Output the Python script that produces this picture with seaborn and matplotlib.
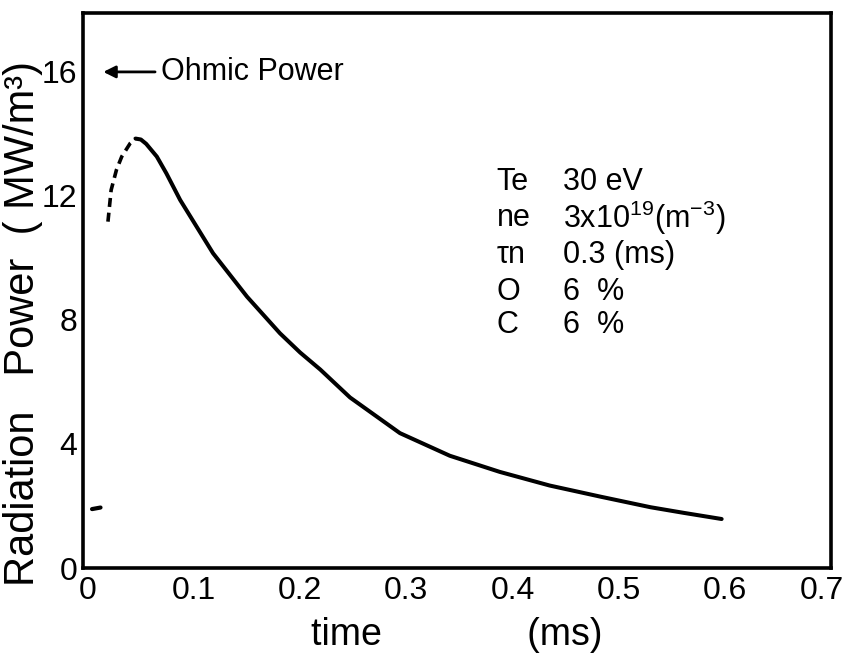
import matplotlib
matplotlib.use("Agg")
import matplotlib.pyplot as plt
import matplotlib.transforms as mtransforms
import seaborn as sns
import pandas as pd

# ---- data ----
solid_t = [0.045, 0.050, 0.055, 0.065, 0.074, 0.087, 0.118, 0.150, 0.181, 0.200,
           0.219, 0.247, 0.294, 0.341, 0.388, 0.435, 0.483, 0.530, 0.561, 0.597]
solid_v = [13.85, 13.82, 13.68, 13.27, 12.73, 11.87, 10.15, 8.75, 7.57, 6.95,
           6.40, 5.50, 4.35, 3.62, 3.10, 2.66, 2.30, 1.96, 1.78, 1.58]
dash_t = [0.019, 0.022, 0.027, 0.032, 0.040, 0.045]
dash_v = [11.17, 12.19, 12.84, 13.27, 13.70, 13.85]
mark_t = [0.004, 0.012]
mark_v = [1.9, 1.95]

x_ticks = [0, 0.1, 0.2, 0.3, 0.4, 0.5, 0.6, 0.7]
x_labels = ["0", "0.1", "0.2", "0.3", "0.4", "0.5", "0.6", "0.7"]
y_ticks = [0, 4, 8, 12, 16]
y_labels = ["0", "4", "8", "12", "16"]

ohmic_level = 16
param_names = ["Te", "ne", "τn", "O", "C"]
param_values = ["30 eV", r"3x10$^{19}$(m$^{-3}$)", "0.3 (ms)", "6  %", "6  %"]
param_rows = [12.45, 11.3, 10.1, 8.9, 7.85]

sns.set_theme(style="white")
plt.rcParams["font.family"] = ["Liberation Sans", "DejaVu Sans"]
plt.rcParams["mathtext.fontset"] = "custom"
plt.rcParams["mathtext.rm"] = "Liberation Sans"
plt.rcParams["mathtext.it"] = "Liberation Sans"

fig = plt.figure(figsize=(8.51, 6.53), dpi=100)
ax = fig.add_axes([83 / 851, 1 - 568 / 653, (831 - 83) / 851, (568 - 13) / 653])

df_solid = pd.DataFrame({"t": solid_t, "v": solid_v})
df_dash = pd.DataFrame({"t": dash_t, "v": dash_v})
df_mark = pd.DataFrame({"t": mark_t, "v": mark_v})

sns.lineplot(data=df_solid, x="t", y="v", ax=ax, color="black", lw=2.9, sort=False)
sns.lineplot(data=df_dash, x="t", y="v", ax=ax, color="black", lw=2.6, sort=False,
             linestyle=(0, (2.5, 1.6)))
sns.lineplot(data=df_mark, x="t", y="v", ax=ax, color="black", lw=3, sort=False)

ax.set_xlim(-0.0045, 0.7)
ax.set_ylim(0, 17.9)
ax.set_xticks(x_ticks)
ax.set_xticklabels(x_labels)
ax.set_yticks(y_ticks)
ax.set_yticklabels(y_labels)
ax.tick_params(axis="both", direction="in", length=7, width=2, color="black",
               labelsize=23, labelcolor="black")
ax.tick_params(axis="x", pad=6)
ax.tick_params(axis="y", pad=4)
for s in ax.spines.values():
    s.set_linewidth(2.6)
    s.set_color("black")
    s.set_visible(True)

# nudge the last x tick label inside the canvas
last = ax.get_xticklabels()[-1]
last.set_transform(last.get_transform() +
                   mtransforms.ScaledTranslation(-9 / 100, 0, fig.dpi_scale_trans))

ax.set_xlabel("time              (ms)", fontsize=27, color="black")
ax.xaxis.set_label_coords(0.499, -0.088)
ax.set_ylabel("Radiation   Power  ( MW/m³)", fontsize=30, color="black")
ax.yaxis.set_label_coords(-0.053, 0.441)

# Ohmic power arrow and label
ax.annotate("", xy=(0.012, ohmic_level), xytext=(0.066, ohmic_level),
            arrowprops=dict(arrowstyle="-|>", color="black", lw=2,
                            mutation_scale=18))
ax.text(0.069, ohmic_level, "Ohmic Power", fontsize=22, color="black",
        va="center", ha="left")

for name, val, yv in zip(param_names, param_values, param_rows):
    ax.text(0.385, yv, name, fontsize=22, color="black", va="center", ha="left")
    ax.text(0.448, yv, val, fontsize=22, color="black", va="center", ha="left")

fig.savefig("out.png", dpi=100)
